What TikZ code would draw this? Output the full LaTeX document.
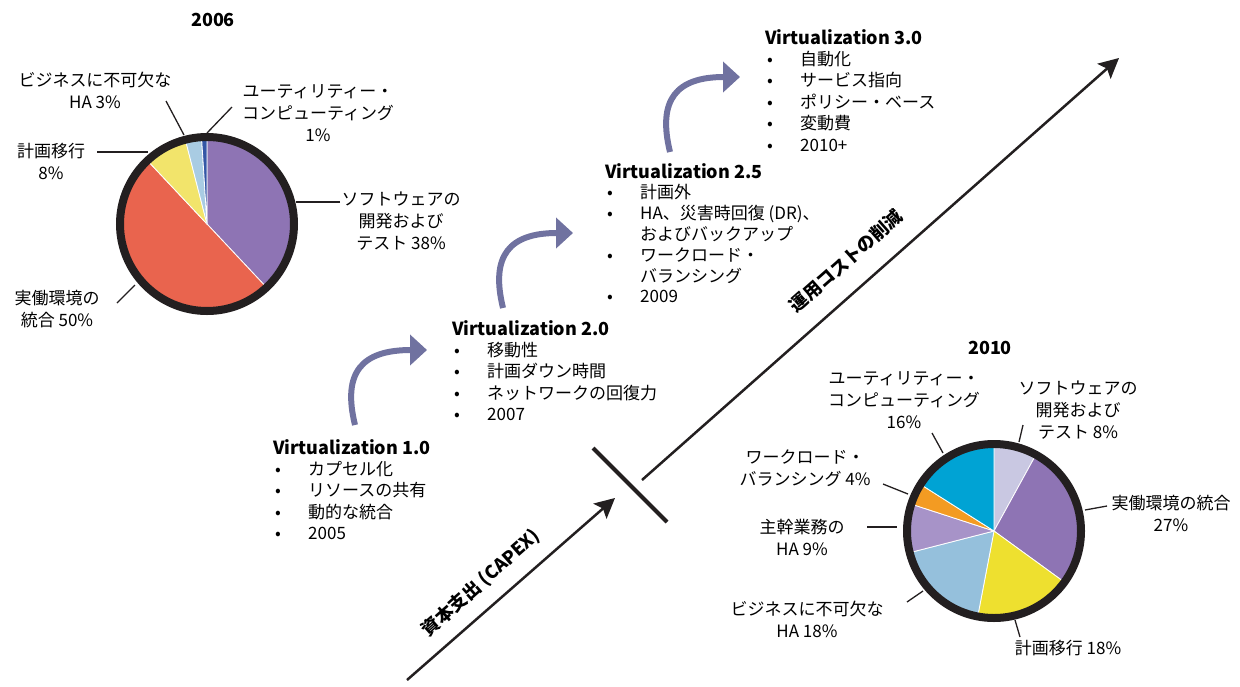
\documentclass[tikz,border=0pt]{standalone}
\usepackage{fontspec}
\setmainfont{Noto Sans CJK JP}
\usepackage{tikz}
\usetikzlibrary{arrows.meta}

\definecolor{ink}{HTML}{231F20}
\definecolor{flow}{RGB}{112,114,160}
\definecolor{purp}{HTML}{8E74B4}
\definecolor{tomato}{HTML}{E9644E}
\definecolor{paleyel}{HTML}{F2E46B}
\definecolor{skyb}{HTML}{A9CCE3}
\definecolor{navyb}{HTML}{3457A6}
\definecolor{lilac}{HTML}{C9C8E2}
\definecolor{lemon}{HTML}{EEE02F}
\definecolor{steelb}{HTML}{95C0DC}
\definecolor{mauve}{HTML}{A793C8}
\definecolor{amber}{HTML}{F39B22}
\definecolor{cyanb}{HTML}{00A3D4}

\newcommand{\bul}{\makebox[35pt][l]{\hspace{2pt}•}}
\newcommand{\ind}{\hspace*{35pt}}

\begin{document}
\begin{tikzpicture}[x=1pt,y=-1pt,font=\fontsize{17}{22}\selectfont]
  \tikzstyle{lbl}=[align=center,inner sep=0pt]
  \tikzstyle{vlist}=[align=left,anchor=north west,inner sep=0pt,font=\fontsize{17}{21.4}\selectfont]
  \tikzstyle{ttl}=[font=\bfseries\fontsize{18}{22}\selectfont,inner sep=0pt]
  \tikzstyle{lead}=[draw=ink,line width=1.3pt]
  \tikzstyle{slice}=[draw=white,line width=0.8pt,line join=round]
  \tikzstyle{rim}=[draw=ink,line width=8pt]
  \tikzstyle{curl}=[draw=flow,line width=6pt,-{Triangle[length=17pt,width=30pt]}]
  \tikzstyle{axis}=[draw=ink,line width=2.5pt,-{Stealth[length=20pt,width=20pt,inset=4pt]}]

  \useasboundingbox (0,0) rectangle (1240,686);

  % pie 2006
  \coordinate (P6) at (207,224);
  \begin{scope}[shift={(P6)},yscale=-1]
    \filldraw[slice,fill=purp] (0,0) -- (90:84) arc[start angle=90,end angle=-46.8,radius=84] -- cycle;
    \filldraw[slice,fill=tomato] (0,0) -- (-46.8:84) arc[start angle=-46.8,end angle=-226.8,radius=84] -- cycle;
    \filldraw[slice,fill=paleyel] (0,0) -- (-226.8:84) arc[start angle=-226.8,end angle=-255.6,radius=84] -- cycle;
    \filldraw[slice,fill=skyb] (0,0) -- (-255.6:84) arc[start angle=-255.6,end angle=-266.4,radius=84] -- cycle;
    \filldraw[slice,fill=navyb] (0,0) -- (-266.4:84) arc[start angle=-266.4,end angle=-270,radius=84] -- cycle;
    \draw[rim] (0,0) circle[radius=87];
  \end{scope}

  \node[ttl] (Y6) at (213,20) {2006};
  \node[lbl] (HA6) at (95,90) {ビジネスに不可欠な\\HA 3\%};
  \node[lbl] (UT6) at (318,113) {ユーティリティー・\\コンピューティング\\1\%};
  \node[lbl] (PL6) at (51,161) {計画移行\\8\%};
  \node[lbl] (SW6) at (401,221) {ソフトウェアの\\開発および\\テスト 38\%};
  \node[lbl] (PR6) at (57,309) {実働環境の\\統合 50\%};

  \coordinate (ha6a) at (166,101);  \coordinate (ha6b) at (184,135);
  \coordinate (ut6a) at (232,107);  \coordinate (ut6b) at (207,133);
  \coordinate (pl6a) at (97,152);   \coordinate (pl6b) at (148,152);
  \coordinate (sw6a) at (340,202);  \coordinate (sw6b) at (296,202);
  \coordinate (pr6a) at (117,303);  \coordinate (pr6b) at (135,285);
  \draw[lead] (ha6a) -- (ha6b);
  \draw[lead] (ut6a) -- (ut6b);
  \draw[lead] (pl6a) -- (pl6b);
  \draw[lead] (sw6a) -- (sw6b);
  \draw[lead] (pr6a) -- (pr6b);

  % pie 2010
  \coordinate (P10) at (994,531);
  \begin{scope}[shift={(P10)},yscale=-1]
    \filldraw[slice,fill=lilac] (0,0) -- (90:84) arc[start angle=90,end angle=61.2,radius=84] -- cycle;
    \filldraw[slice,fill=purp] (0,0) -- (61.2:84) arc[start angle=61.2,end angle=-36,radius=84] -- cycle;
    \filldraw[slice,fill=lemon] (0,0) -- (-36:84) arc[start angle=-36,end angle=-100.8,radius=84] -- cycle;
    \filldraw[slice,fill=steelb] (0,0) -- (-100.8:84) arc[start angle=-100.8,end angle=-165.6,radius=84] -- cycle;
    \filldraw[slice,fill=mauve] (0,0) -- (-165.6:84) arc[start angle=-165.6,end angle=-198,radius=84] -- cycle;
    \filldraw[slice,fill=amber] (0,0) -- (-198:84) arc[start angle=-198,end angle=-212.4,radius=84] -- cycle;
    \filldraw[slice,fill=cyanb] (0,0) -- (-212.4:84) arc[start angle=-212.4,end angle=-270,radius=84] -- cycle;
    \draw[rim] (0,0) circle[radius=87];
  \end{scope}

  \node[ttl] (Y10) at (990,348) {2010};
  \node[lbl] (UT10) at (904,400) {ユーティリティー・\\コンピューティング\\16\%};
  \node[lbl] (SW10) at (1078,410) {ソフトウェアの\\開発および\\テスト 8\%};
  \node[lbl] (WL10) at (805,468) {ワークロード・\\バランシング 4\%};
  \node[lbl] (CO10) at (802,537) {主幹業務の\\HA 9\%};
  \node[lbl] (HA10) at (807,619) {ビジネスに不可欠な\\HA 18\%};
  \node[lbl] (PL10) at (1068,648) {計画移行 18\%};
  \node[lbl] (PR10) at (1171,513) {実働環境の統合\\27\%};

  \coordinate (ut10a) at (932,433);  \coordinate (ut10b) at (943,453);
  \coordinate (sw10a) at (1023,425); \coordinate (sw10b) at (1019,442);
  \coordinate (wl10a) at (883,484);  \coordinate (wl10b) at (908,494);
  \coordinate (co10a) at (867,527);  \coordinate (co10b) at (897,527);
  \coordinate (ha10a) at (907,602);  \coordinate (ha10b) at (923,591);
  \coordinate (pl10a) at (1020,637); \coordinate (pl10b) at (1015,620);
  \coordinate (pr10a) at (1107,506); \coordinate (pr10b) at (1085,510);
  \draw[lead] (ut10a) -- (ut10b);
  \draw[lead] (sw10a) -- (sw10b);
  \draw[lead] (wl10a) -- (wl10b);
  \draw[lead] (co10a) -- (co10b);
  \draw[lead] (ha10a) -- (ha10b);
  \draw[lead] (pl10a) -- (pl10b);
  \draw[lead] (pr10a) -- (pr10b);

  % stages
  \node[vlist] (V1) at (273,439) {{\bfseries\fontsize{18}{22}\selectfont Virtualization 1.0}\\
    \bul カプセル化\\ \bul リソースの共有\\ \bul 動的な統合\\ \bul 2005};
  \node[vlist] (V2) at (452,320) {{\bfseries\fontsize{18}{22}\selectfont Virtualization 2.0}\\
    \bul 移動性\\ \bul 計画ダウン時間\\ \bul ネットワークの回復力\\ \bul 2007};
  \node[vlist,font=\fontsize{17}{20.8}\selectfont] (V25) at (605,163) {{\bfseries\fontsize{18}{22}\selectfont Virtualization 2.5}\\
    \bul 計画外\\ \bul HA、災害時回復 (DR)、\\ \ind およびバックアップ\\ \bul ワークロード・\\ \ind バランシング\\ \bul 2009};
  \node[vlist] (V3) at (765,29) {{\bfseries\fontsize{18}{22}\selectfont Virtualization 3.0}\\
    \bul 自動化\\ \bul サービス指向\\ \bul ポリシー・ベース\\ \bul 変動費\\ \bul 2010+};

  \coordinate (c1a) at (355,425);  \coordinate (c1b) at (427,350);
  \coordinate (c2a) at (503,308);  \coordinate (c2b) at (573,233);
  \coordinate (c3a) at (670,152);  \coordinate (c3b) at (740,77);
  \draw[curl] (c1a) .. controls (342,372) and (362,350) .. (c1b);
  \draw[curl] (c2a) .. controls (490,255) and (510,233) .. (c2b);
  \draw[curl] (c3a) .. controls (657,99) and (677,77) .. (c3b);

  % cost axis
  \coordinate (cx1) at (407,680);  \coordinate (cx2) at (615,498);
  \coordinate (cb1) at (593,448);  \coordinate (cb2) at (667,522);
  \coordinate (ox1) at (642,480);  \coordinate (ox2) at (1119,58);
  \draw[axis] (cx1) -- (cx2);
  \draw[ink,line width=4pt] (cb1) -- (cb2);
  \draw[axis] (ox1) -- (ox2);
  \node[ttl,rotate=41.5] (CAP) at (481,583) {資本支出 (CAPEX)};
  \node[ttl,rotate=41.5] (OPX) at (846,261) {運用コストの削減};
\end{tikzpicture}
\end{document}
